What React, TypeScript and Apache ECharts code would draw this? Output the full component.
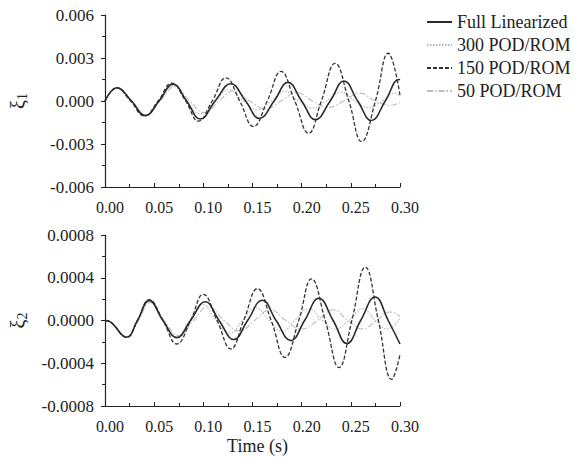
import React, { useEffect, useRef } from "react";
import * as echarts from "echarts";

const FONT = '"Liberation Serif", "Times New Roman", Times, serif';

const seriesNames = ["Full Linearized", "300 POD/ROM", "150 POD/ROM", "50 POD/ROM"];
const xTicks = [0, 0.05, 0.1, 0.15, 0.2, 0.25, 0.3];

// Upper panel: xi_1 (time s, value)
const full1: [number, number][] = [
  [0, 0], [0.012, 0.00092], [0.027, 0], [0.041, -0.00102], [0.055, 0], [0.069, 0.00118],
  [0.083, 0], [0.097, -0.00126], [0.112, 0], [0.128, 0.0012], [0.143, 0], [0.157, -0.00122],
  [0.172, 0], [0.186, 0.0013], [0.2, 0], [0.214, -0.0013], [0.229, 0], [0.243, 0.0014],
  [0.257, 0], [0.271, -0.00136], [0.285, 0], [0.299, 0.0015], [0.3, 0.00148],
];
const pod300_1: [number, number][] = [
  [0, 0], [0.012, 0.0009], [0.027, 0], [0.04, -0.001], [0.055, 0], [0.069, 0.00105],
  [0.083, 0], [0.097, -0.0009], [0.112, 0], [0.126, 0.0008], [0.141, 0], [0.155, -0.0006],
  [0.169, 0], [0.183, 0.00068], [0.197, 0], [0.211, -0.0005], [0.225, 0], [0.24, 0.00062],
  [0.254, 0], [0.268, -0.00045], [0.282, 0], [0.295, 0.00055], [0.3, 0.0003],
];
const pod150_1: [number, number][] = [
  [0, 0], [0.012, 0.00092], [0.026, 0], [0.04, -0.00105], [0.054, 0], [0.068, 0.00125],
  [0.082, 0], [0.095, -0.0014], [0.109, 0], [0.123, 0.00162], [0.137, 0], [0.151, -0.00178],
  [0.165, 0], [0.179, 0.00206], [0.193, 0], [0.207, -0.00225], [0.22, 0], [0.234, 0.00263],
  [0.248, 0], [0.261, -0.00283], [0.275, 0], [0.288, 0.00333], [0.3, 0.0004],
];
const pod50_1: [number, number][] = [
  [0, 0], [0.012, 0.0009], [0.027, 0], [0.041, -0.00098], [0.056, 0], [0.071, 0.001],
  [0.086, 0], [0.101, -0.0008], [0.116, 0], [0.131, 0.00072], [0.147, 0], [0.163, -0.00055],
  [0.179, 0], [0.195, 0.00058], [0.211, 0], [0.227, -0.00045], [0.243, 0], [0.259, 0.00055],
  [0.275, 0], [0.291, -0.0003], [0.3, -0.0001],
];

// Lower panel: xi_2
const full2: [number, number][] = [
  [0, 0], [0.005, -0.00001], [0.022, -0.000157], [0.033, 0], [0.045, 0.000188], [0.059, 0],
  [0.073, -0.00016], [0.087, 0], [0.102, 0.000175], [0.116, 0], [0.131, -0.000178], [0.145, 0],
  [0.16, 0.00019], [0.174, 0], [0.189, -0.000188], [0.203, 0], [0.2175, 0.000208], [0.232, 0],
  [0.246, -0.000215], [0.26, 0], [0.2747, 0.00022], [0.288, 0], [0.3, -0.00022],
];
const pod300_2: [number, number][] = [
  [0, 0], [0.005, -0.00001], [0.022, -0.000157], [0.033, 0], [0.045, 0.00018], [0.059, 0],
  [0.073, -0.00015], [0.086, 0], [0.099, 0.00015], [0.113, 0], [0.127, -0.00012], [0.14, 0],
  [0.153, 0.00012], [0.167, 0], [0.18, -0.0001], [0.193, 0], [0.207, 0.00011], [0.221, 0],
  [0.234, -0.00008], [0.248, 0], [0.262, 0.00011], [0.275, 0], [0.287, -0.00008], [0.3, 0.00002],
];
const pod150_2: [number, number][] = [
  [0, 0], [0.005, -0.00001], [0.022, -0.000157], [0.033, 0], [0.045, 0.000195], [0.059, 0],
  [0.073, -0.00022], [0.087, 0], [0.1, 0.000245], [0.114, 0], [0.128, -0.000266], [0.141, 0],
  [0.155, 0.000298], [0.169, 0], [0.183, -0.000345], [0.197, 0], [0.21, 0.00039], [0.224, 0],
  [0.238, -0.00044], [0.251, 0], [0.2647, 0.0005], [0.278, 0], [0.2916, -0.00055], [0.3, -0.00032],
];
const pod50_2: [number, number][] = [
  [0, 0], [0.005, -0.00001], [0.022, -0.000155], [0.034, 0], [0.046, 0.00017], [0.06, 0],
  [0.075, -0.00014], [0.09, 0], [0.105, 0.00013], [0.121, 0], [0.137, -0.0001], [0.152, 0],
  [0.168, 0.0001], [0.184, 0], [0.2, -0.00008], [0.216, 0], [0.232, 0.0001], [0.247, 0],
  [0.262, -0.00008], [0.276, 0], [0.29, 0.00008], [0.3, 0.00004],
];

const styles: Record<string, any> = {
  "Full Linearized": { color: "#2a2a2a", width: 1.6, type: "solid", z: 5 },
  "300 POD/ROM": { color: "#b4b4b4", width: 1.1, type: [1.5, 1.5], z: 2 },
  "150 POD/ROM": { color: "#333333", width: 1.3, type: [4, 2], z: 4 },
  "50 POD/ROM": { color: "#bcbcbc", width: 1.1, type: [6, 2, 1.5, 2], z: 3 },
};

function makeSeries(name: string, data: [number, number][], idx: number) {
  const s = styles[name];
  return {
    name,
    type: "line",
    xAxisIndex: idx,
    yAxisIndex: idx,
    data,
    smooth: 0.45,
    symbol: "none",
    showSymbol: false,
    z: s.z,
    lineStyle: { color: s.color, width: s.width, type: s.type },
    itemStyle: { color: s.color },
  };
}

function xAxis(idx: number, labelMargin: number, extra: any = {}) {
  return {
    type: "value",
    gridIndex: idx,
    min: xTicks[0],
    max: xTicks[xTicks.length - 1],
    interval: 0.05,
    axisLine: { onZero: false, lineStyle: { color: "#222", width: 1.2 } },
    axisTick: { inside: true, length: 4, lineStyle: { color: "#222" } },
    minorTick: { show: true, splitNumber: 2, length: 3, lineStyle: { color: "#222" } },
    splitLine: { show: false },
    axisLabel: {
      formatter: (v: number) => v.toFixed(2),
      fontFamily: FONT,
      fontSize: 16,
      color: "#222",
      margin: labelMargin,
      padding: [0, 0, 0, 10],
      showMinLabel: true,
      showMaxLabel: true,
    },
    ...extra,
  };
}

function yAxis(idx: number, lim: number, step: number, digits: number, sub: string) {
  return {
    type: "value",
    gridIndex: idx,
    min: -lim,
    max: lim,
    interval: step,
    axisLine: { onZero: false, lineStyle: { color: "#222", width: 1.2 } },
    axisTick: { length: 4, lineStyle: { color: "#222" } },
    minorTick: { show: true, splitNumber: 2, length: 3, lineStyle: { color: "#222" } },
    splitLine: { show: false },
    axisLabel: {
      formatter: (v: number) => (Math.abs(v) < 1e-12 ? 0 : v).toFixed(digits),
      fontFamily: FONT,
      fontSize: 17,
      color: "#222",
      margin: 11,
    },
    name: "{x|ξ}{s|" + sub + "}",
    nameLocation: "middle",
    nameRotate: 90,
    nameGap: 76,
    nameTextStyle: {
      rich: {
        x: { fontFamily: FONT, fontSize: 20, color: "#222" },
        s: { fontFamily: FONT, fontSize: 14, color: "#222", padding: [8, 0, 0, 0] },
      },
    },
  };
}

export default function App() {
  const ref = useRef<HTMLDivElement>(null);
  useEffect(() => {
    if (!ref.current) return;
    const chart = echarts.init(ref.current, null, { renderer: "svg" });
    chart.setOption({
      animation: false,
      backgroundColor: "#ffffff",
      grid: [
        { left: 103, top: 15, width: 297, height: 172 },
        { left: 103, top: 235, width: 297, height: 171 },
      ],
      legend: {
        data: seriesNames,
        orient: "vertical",
        left: 421,
        top: 8,
        itemWidth: 25,
        itemHeight: 10,
        itemGap: 5,
        itemStyle: { opacity: 0 },
        textStyle: { fontFamily: FONT, fontSize: 18, color: "#222" },
      },
      xAxis: [
        xAxis(0, 12),
        xAxis(1, 12, {
          name: "Time (s)",
          nameLocation: "middle",
          nameGap: 31,
          nameTextStyle: { fontFamily: FONT, fontSize: 18, color: "#222", padding: [0, 0, 0, 10] },
        }),
      ],
      yAxis: [
        yAxis(0, 0.006, 0.003, 3, "1"),
        yAxis(1, 0.0008, 0.0004, 4, "2"),
      ],
      series: [
        makeSeries("300 POD/ROM", pod300_1, 0),
        makeSeries("50 POD/ROM", pod50_1, 0),
        makeSeries("150 POD/ROM", pod150_1, 0),
        makeSeries("Full Linearized", full1, 0),
        makeSeries("300 POD/ROM", pod300_2, 1),
        makeSeries("50 POD/ROM", pod50_2, 1),
        makeSeries("150 POD/ROM", pod150_2, 1),
        makeSeries("Full Linearized", full2, 1),
      ],
    });
    return () => chart.dispose();
  }, []);
  return (
    <div
      ref={ref}
      style={{ position: "fixed", left: 0, top: 0, width: 583, height: 461, background: "#fff" }}
    />
  );
}
